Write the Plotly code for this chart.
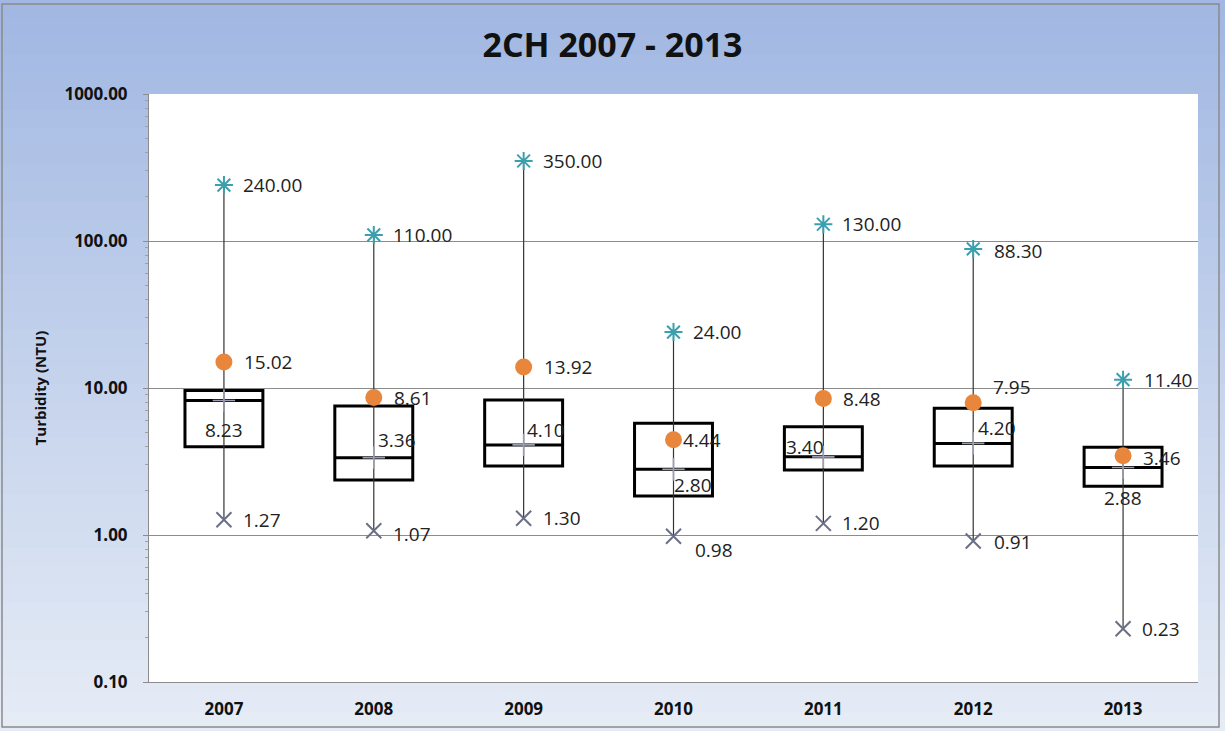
import numpy as np
import plotly.graph_objects as go

years = ["2007", "2008", "2009", "2010", "2011", "2012", "2013"]
max_vals = [240.00, 110.00, 350.00, 24.00, 130.00, 88.30, 11.40]
min_vals = [1.27, 1.07, 1.30, 0.98, 1.20, 0.91, 0.23]
mean_vals = [15.02, 8.61, 13.92, 4.44, 8.48, 7.95, 3.46]
median_vals = [8.23, 3.36, 4.10, 2.80, 3.40, 4.20, 2.88]
q1_vals = [3.99, 2.37, 2.95, 1.84, 2.77, 2.95, 2.15]
q3_vals = [9.60, 7.55, 8.30, 5.75, 5.45, 7.27, 3.95]
y_ticks = [0.1, 1, 10, 100, 1000]
y_ticktext = ["0.10", "1.00", "10.00", "100.00", "1000.00"]

# label offsets (pixels): (xanchor, xshift, yshift)
max_off = [("left", 17, 0), ("left", 17, 0), ("left", 17, 0), ("left", 17, 0),
           ("left", 17, 0), ("left", 19, -2), ("left", 19, 0)]
min_off = [("left", 17, 0), ("left", 17, -3), ("left", 17, 0), ("left", 19, -14),
           ("left", 17, 0), ("left", 19, -1), ("left", 17, 0)]
mean_off = [("left", 18, 0), ("left", 18, 0), ("left", 18, 0), ("left", 7, 0),
            ("left", 18, 0), ("left", 18, 16), ("left", 18, -2)]
med_off = [("center", 0, -30), ("left", 2, 18), ("left", 1, 15), ("left", -2, -16),
           ("center", -18, 10), ("left", 3, 15), ("center", 0, -31)]

FONT = "Open Sans"
W, H = 1225, 731
L, R, T, B = 149, 27, 94, 49
pw, ph = W - L - R, H - T - B

def px_x(p):
    return (p - L) / pw

def px_y(p):
    return (H - B - p) / ph

fig = go.Figure()

# whiskers
wx, wy = [], []
for yr, lo, hi in zip(years, min_vals, max_vals):
    wx += [yr, yr, None]
    wy += [lo, hi, None]
fig.add_trace(go.Scatter(x=wx, y=wy, mode="lines",
                         line=dict(color="#333333", width=1.2),
                         hoverinfo="skip", showlegend=False))

# boxes
fig.add_trace(go.Box(x=years, q1=q1_vals, median=median_vals, q3=q3_vals,
                     lowerfence=q1_vals, upperfence=q3_vals,
                     width=0.52, whiskerwidth=0, boxpoints=False,
                     fillcolor="white", line=dict(color="black", width=3),
                     hoverinfo="skip", showlegend=False))

fig.add_trace(go.Scatter(x=years, y=median_vals, mode="markers",
                         marker=dict(symbol="cross-thin-open", size=16, color="#9a9db3",
                                     line=dict(color="#9a9db3", width=1.6)),
                         hoverinfo="skip", showlegend=False))
fig.add_trace(go.Scatter(x=years, y=min_vals, mode="markers",
                         marker=dict(symbol="x-thin-open", size=15, color="#6b6f86",
                                     line=dict(color="#6b6f86", width=2)),
                         hoverinfo="skip", showlegend=False))
fig.add_trace(go.Scatter(x=years, y=max_vals, mode="markers",
                         marker=dict(symbol="asterisk-open", size=15, color="#3c9fae",
                                     line=dict(color="#3c9fae", width=2)),
                         hoverinfo="skip", showlegend=False))
fig.add_trace(go.Scatter(x=years, y=mean_vals, mode="markers",
                         marker=dict(symbol="circle", size=17, color="#e8863b"),
                         hoverinfo="skip", showlegend=False))

annotations = []
for vals, offs in [(max_vals, max_off), (min_vals, min_off),
                   (mean_vals, mean_off), (median_vals, med_off)]:
    for i, (v, (xa, xs, ys)) in enumerate(zip(vals, offs)):
        annotations.append(dict(x=i, y=float(np.log10(v)), xref="x", yref="y",
                                text=f"{v:.2f}", showarrow=False,
                                xanchor=xa, yanchor="middle",
                                xshift=xs, yshift=ys,
                                font=dict(family=FONT, size=19, color="#222222")))

# background gradient bands
shapes = []
top_c = np.array([0xa2, 0xb8, 0xe3])
bot_c = np.array([0xe6, 0xec, 0xf6])
n = 40
for i in range(n):
    t = i / (n - 1)
    c = (top_c * (1 - t) + bot_c * t).astype(int)
    y0 = i * H / n
    y1 = (i + 1) * H / n + 1
    shapes.append(dict(type="rect", xref="paper", yref="paper",
                       x0=px_x(0), x1=px_x(W), y0=px_y(y1), y1=px_y(y0),
                       fillcolor=f"rgb({c[0]},{c[1]},{c[2]})",
                       line=dict(width=0), layer="below"))
# white plot area
shapes.append(dict(type="rect", xref="paper", yref="paper", x0=0, x1=1, y0=0, y1=1,
                   fillcolor="white", line=dict(width=0), layer="below"))
# frame border
shapes.append(dict(type="rect", xref="paper", yref="paper",
                   x0=px_x(2), x1=px_x(1219), y0=px_y(727), y1=px_y(4),
                   fillcolor="rgba(0,0,0,0)", line=dict(color="#8a8a8a", width=1.5),
                   layer="above"))

minor_vals = [m * 10.0 ** d for d in range(-1, 3) for m in range(2, 10)]

fig.update_layout(
    width=W, height=H,
    margin=dict(l=L, r=R, t=T, b=B),
    paper_bgcolor="#c8d5ee", plot_bgcolor="white",
    title=dict(text="<b>2CH 2007 - 2013</b>", x=0.5, xref="container", xanchor="center",
               y=1 - 45 / H, yanchor="middle",
               font=dict(family=FONT, size=34, color="#111111")),
    xaxis=dict(type="category", categoryorder="array", categoryarray=years,
               range=[-0.5, 6.5], showgrid=False, showline=True,
               linecolor="#8c8c8c", linewidth=1, ticks="",
               ticklabelstandoff=12,
               tickfont=dict(family=FONT, size=17, color="#111111", weight="bold")),
    yaxis=dict(type="log", range=[-1, 3], tickvals=y_ticks, ticktext=y_ticktext,
               showgrid=True, gridcolor="#8c8c8c", gridwidth=1,
               showline=True, linecolor="#8c8c8c", linewidth=1,
               ticks="outside", ticklen=5, tickcolor="#8c8c8c",
               ticklabelstandoff=12, zeroline=False,
               minor=dict(tickvals=minor_vals, ticks="outside", ticklen=3,
                          tickcolor="#a0a0a0", showgrid=False),
               tickfont=dict(family=FONT, size=17, color="#111111", weight="bold"),
               title=dict(text="<b>Turbidity (NTU)</b>", standoff=14,
                          font=dict(family=FONT, size=15, color="#111111"))),
    shapes=shapes,
    annotations=annotations,
)

fig.write_html("out.html", config={"displayModeBar": False},
               post_script="document.body.style.margin='0px';")
